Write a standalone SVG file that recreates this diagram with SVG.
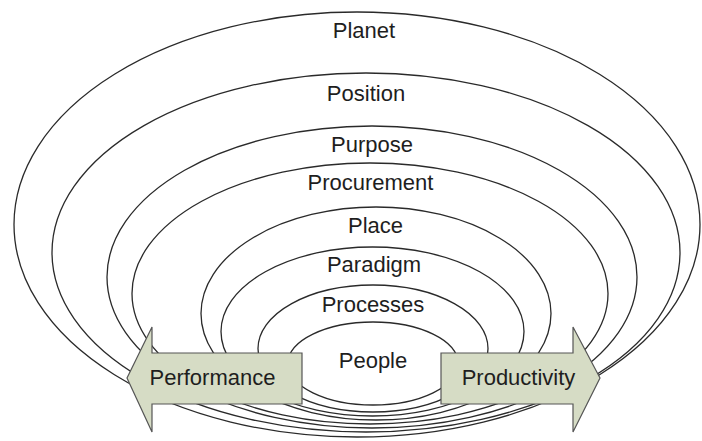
<svg xmlns="http://www.w3.org/2000/svg" width="702" height="441" viewBox="0 0 702 441">
<style>
.ring{fill:none;stroke:#2a2a2a;stroke-width:1.3}
.lbl{font-family:"Liberation Sans",Arial,sans-serif;font-size:22px;fill:#1e1e1e;text-anchor:middle}
.arrow{fill:#d6dcc5;stroke:#555;stroke-width:1.2;stroke-linejoin:miter}
</style>
<rect width="702" height="441" fill="#fff"/>
<g id="planet"><ellipse class="ring" cx="357" cy="224.5" rx="343" ry="212.5"/><text class="lbl" x="364" y="38">Planet</text></g>
<g id="position"><ellipse class="ring" cx="366" cy="252.5" rx="314" ry="179.5"/><text class="lbl" x="366" y="101">Position</text></g>
<g id="purpose"><ellipse class="ring" cx="372" cy="277" rx="265" ry="151"/><text class="lbl" x="372" y="152">Purpose</text></g>
<g id="procurement"><ellipse class="ring" cx="370" cy="293.5" rx="238" ry="130.5"/><text class="lbl" x="370.5" y="190">Procurement</text></g>
<g id="place"><ellipse class="ring" cx="376" cy="313.5" rx="175" ry="106.5"/><text class="lbl" x="375.5" y="233">Place</text></g>
<g id="paradigm"><ellipse class="ring" cx="372.5" cy="331.5" rx="151.5" ry="84.5"/><text class="lbl" x="374" y="272">Paradigm</text></g>
<g id="processes"><ellipse class="ring" cx="373" cy="348.5" rx="115" ry="63.5"/><text class="lbl" x="373" y="312">Processes</text></g>
<g id="people"><ellipse class="ring" cx="373" cy="363.5" rx="85" ry="41.5"/><text class="lbl" x="373" y="368">People</text></g>
<g id="performance"><path class="arrow" d="M302,353 L152,353 L152,327 L127,378 L152,432 L152,404 L302,404 Z"/><text class="lbl" x="212.5" y="385">Performance</text></g>
<g id="productivity"><path class="arrow" d="M441,353 L573,353 L573,327 L600,378 L573,432 L573,404 L441,404 Z"/><text class="lbl" x="518.5" y="385">Productivity</text></g>
</svg>
